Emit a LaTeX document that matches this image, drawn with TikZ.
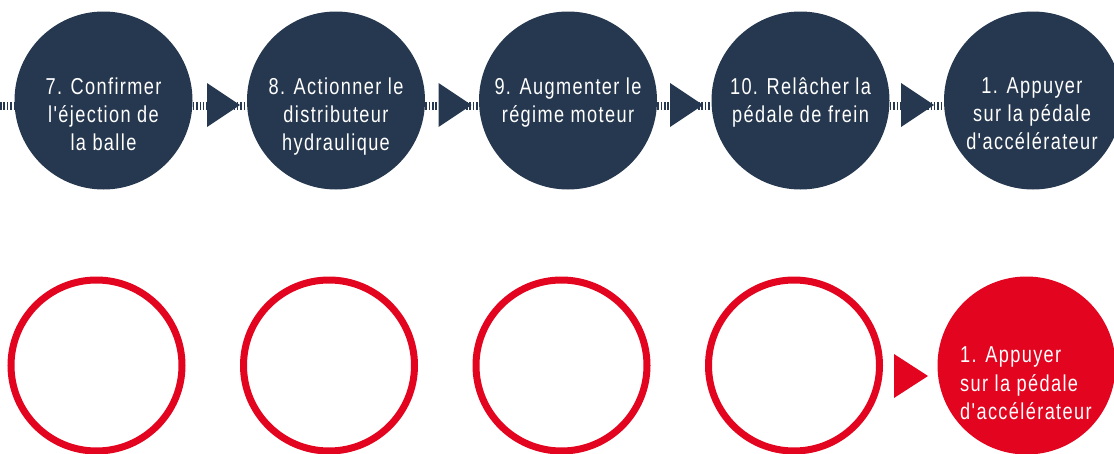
\documentclass[tikz,border=0pt]{standalone}
\usepackage{fontspec}
\setmainfont{Liberation Sans}[FakeStretch=0.79,LetterSpace=6,Ligatures=TeXOff]
\definecolor{navy}{HTML}{26384F}
\definecolor{rred}{HTML}{E30520}
\tikzset{
  stepnode/.style={circle, fill=navy, minimum size=178pt, inner sep=0pt},
  ringnode/.style={circle, draw=rred, line width=7pt, minimum size=171pt, inner sep=0pt},
  rednode/.style={circle, fill=rred, minimum size=178pt, inner sep=0pt},
  lbl/.style={text=white, font=\fontsize{23}{28}\selectfont, align=center, inner sep=0pt, anchor=north},
  lblleft/.style={text=white, font=\fontsize{23}{28.5}\selectfont, align=left, inner sep=0pt, anchor=north west},
  link/.style={draw=navy, line width=8pt, dash pattern=on 1.5pt off 1.9pt},
  tri/.style={fill=navy},
  redtri/.style={fill=rred}
}
\begin{document}
\begin{tikzpicture}[x=1pt,y=-1pt]
\useasboundingbox (0,0) rectangle (1114,453);
% top row circles
\node[stepnode] (c1) at (103.5,100.5) {};
\node[stepnode] (c2) at (336,100.5) {};
\node[stepnode] (c3) at (568,100.5) {};
\node[stepnode] (c4) at (800.5,100.5) {};
\node[stepnode] (c5) at (1033,100.5) {};
% connectors
\coordinate (s0) at (0,106);
\draw[link] (s0) -- ([yshift=-5.5pt]c1.west);
\draw[link] ([yshift=-5.5pt]c1.east) -- ([yshift=-5.5pt]c2.west);
\draw[link] ([yshift=-5.5pt]c2.east) -- ([yshift=-5.5pt]c3.west);
\draw[link] ([yshift=-5.5pt]c3.east) -- ([yshift=-5.5pt]c4.west);
\draw[link] ([yshift=-5.5pt]c4.east) -- ([yshift=-5.5pt]c5.west);
% arrow triangles
\coordinate (t1) at (207,83);
\coordinate (t2) at (438.5,83);
\coordinate (t3) at (670,83);
\coordinate (t4) at (901,83);
\foreach \t in {t1,t2,t3,t4}{
  \fill[tri] (\t) -- ++(33,22) -- ++(-33,22) -- cycle;
}
% labels
\node[lbl] (l1) at (103.5,77.5) {7. Confirmer\\l'éjection de\\la balle};
\node[lbl] (l2) at (336,77.5) {8. Actionner le\\distributeur\\hydraulique};
\node[lbl] (l3) at (568,77.5) {9. Augmenter le\\régime moteur};
\node[lbl] (l4) at (800.5,77.5) {10. Relâcher la\\pédale de frein};
\node[lbl] (l5) at (1032,77.5) {1. Appuyer\\sur la pédale\\d'accélérateur};
% bottom row
\node[ringnode] (r1) at (96.5,365.5) {};
\node[ringnode] (r2) at (329,365.5) {};
\node[ringnode] (r3) at (561.5,365.5) {};
\node[ringnode] (r4) at (794,365.5) {};
\node[rednode] (r5) at (1026.5,365.5) {};
\coordinate (t5) at (894,354);
\fill[redtri] (t5) -- ++(34,22) -- ++(-34,22) -- cycle;
\node[lblleft] (l6) at (960,346.5) {1. Appuyer\\sur la pédale\\d'accélérateur};
\end{tikzpicture}
\end{document}
